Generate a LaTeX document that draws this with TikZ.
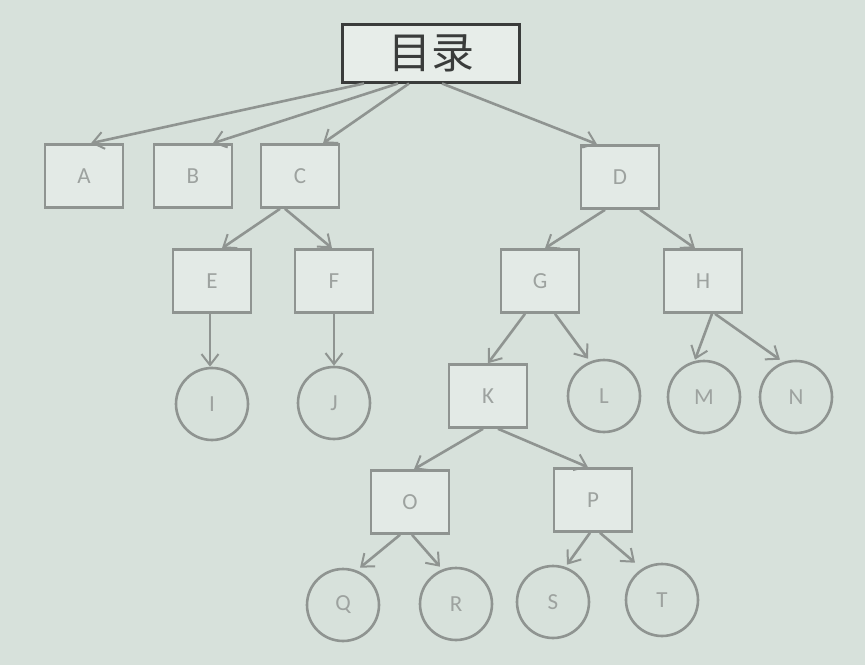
\documentclass[tikz,border=0pt]{standalone}
\usepackage{fontspec}
\setsansfont{Carlito}
\newfontfamily\cjkfont{Noto Sans CJK SC}
\usetikzlibrary{arrows.meta}
\definecolor{paper}{HTML}{D7E1DB}
\definecolor{inkline}{HTML}{8F9491}
\definecolor{inktext}{HTML}{9DA29F}
\definecolor{rootink}{HTML}{3A3C3B}
\begin{document}
\begin{tikzpicture}[x=1pt,y=-1pt,
  box/.style={draw=inkline,line width=2.6pt,fill=paper!70!white,minimum width=78pt,minimum height=63pt,inner sep=0pt,text=inktext,font=\sffamily\fontsize{23}{23}\selectfont},
  ring/.style={draw=inkline,line width=2.6pt,circle,minimum size=72pt,inner sep=0pt,text=inktext,font=\sffamily\fontsize{23}{23}\selectfont},
  arr/.style={draw=inkline,line width=2.6pt,-{Straight Barb[length=11pt,width=17pt,line width=2pt]}}]
\useasboundingbox[fill=paper] (0,0) rectangle (865,665);

% root
\node[draw=rootink,line width=3pt,fill=paper!60!white,minimum width=177pt,minimum height=58pt,inner sep=0pt,text=rootink,font=\cjkfont\fontsize{43}{43}\selectfont] (root) at (431,53) {目录};

% first level
\node[box] (A) at (84,176) {A};
\node[box] (B) at (193,176) {B};
\node[box] (C) at (300,176) {C};
\node[box] (D) at (620,177) {D};

% C subtree
\node[box] (E) at (212,281) {E};
\node[box] (F) at (334,281) {F};
\node[ring] (I) at (212,404) {I};
\node[ring] (J) at (334,403) {J};

% D subtree
\node[box] (G) at (540,281) {G};
\node[box] (H) at (703,281) {H};
\node[box] (K) at (488,396) {K};
\node[ring] (L) at (604,396) {L};
\node[ring] (M) at (704,397) {M};
\node[ring] (N) at (796,397) {N};

% K subtree
\node[box] (O) at (410,502) {O};
\node[box] (P) at (593,500) {P};
\node[ring] (Q) at (343,605) {Q};
\node[ring] (R) at (456,604) {R};
\node[ring] (S) at (553,602) {S};
\node[ring] (T) at (662,600) {T};

% connectors
\draw[arr] ([xshift=-67pt]root.south) -- ([xshift=7pt]A.north);
\draw[arr] ([xshift=-33pt]root.south) -- ([xshift=20pt]B.north);
\draw[arr] ([xshift=-22pt]root.south) -- ([xshift=23pt]C.north);
\draw[arr] ([xshift=11pt]root.south) -- ([xshift=-23pt]D.north);
\draw[arr] ([xshift=-20pt]C.south) -- ([xshift=10pt]E.north);
\draw[arr] ([xshift=-15pt]C.south) -- ([xshift=-2pt]F.north);
\draw[arr] ([xshift=-2pt]E.south) -- ([xshift=-2pt]I.north);
\draw[arr] (F.south) -- (J.north);
\draw[arr] ([xshift=-15pt]D.south) -- ([xshift=5pt]G.north);
\draw[arr] ([xshift=20pt]D.south) -- ([xshift=-8pt]H.north);
\draw[arr] ([xshift=-15pt]G.south) -- (K.north);
\draw[arr] ([xshift=15pt]G.south) -- ([xshift=-16pt]L.north);
\draw[arr] ([xshift=9pt]H.south) -- ([xshift=-9pt]M.north);
\draw[arr] ([xshift=12pt]H.south) -- ([xshift=-16pt]N.north);
\draw[arr] ([xshift=-5pt]K.south) -- ([xshift=4pt]O.north);
\draw[arr] ([xshift=10pt]K.south) -- ([xshift=-5pt]P.north);
\draw[arr] ([xshift=-10pt]O.south) -- ([xshift=17pt]Q.north);
\draw[arr] ([xshift=2pt]O.south) -- ([xshift=-16pt]R.north);
\draw[arr] ([xshift=-3pt]P.south) -- ([xshift=14pt]S.north);
\draw[arr] ([xshift=7pt]P.south) -- ([xshift=-27pt]T.north);
\end{tikzpicture}
\end{document}
